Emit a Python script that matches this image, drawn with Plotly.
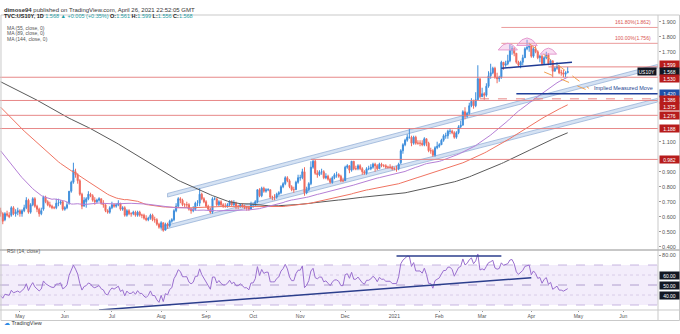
import numpy as np
import pandas as pd
import plotly.graph_objects as go

# ---------------- data: TVC:US10Y daily ----------------
# closes before the visible window (Sep 30 2019 .. Apr 17 2020), used for MA / RSI warm-up
history_close = [
    1.67, 1.65, 1.60, 1.54, 1.53,
    1.56, 1.53, 1.59, 1.67, 1.73,
    1.73, 1.77, 1.75, 1.75, 1.75,
    1.80, 1.77, 1.77, 1.77, 1.80,
    1.84, 1.84, 1.78, 1.69, 1.71,
    1.78, 1.86, 1.82, 1.92, 1.94,
    1.94, 1.92, 1.88, 1.82, 1.83,
    1.81, 1.79, 1.74, 1.77, 1.77,
    1.76, 1.74, 1.77, 1.77, 1.78,
    1.83, 1.72, 1.77, 1.80, 1.84,
    1.82, 1.84, 1.79, 1.90, 1.82,
    1.88, 1.89, 1.92, 1.92, 1.92,
    1.93, 1.90, 1.90, 1.90, 1.88,
    1.90, 1.92, 1.92, 1.88, 1.79,
    1.81, 1.83, 1.87, 1.85, 1.82,
    1.85, 1.81, 1.79, 1.81, 1.84,
    1.84, 1.77, 1.77, 1.74, 1.68,
    1.61, 1.65, 1.59, 1.58, 1.51,
    1.53, 1.60, 1.65, 1.65, 1.58,
    1.56, 1.59, 1.63, 1.61, 1.58,
    1.58, 1.56, 1.56, 1.52, 1.47,
    1.37, 1.33, 1.31, 1.30, 1.13,
    1.16, 1.00, 1.00, 0.92, 0.74,
    0.54, 0.77, 0.82, 0.86, 0.96,
    0.73, 1.08, 1.19, 1.12, 0.92,
    0.76, 0.84, 0.86, 0.83, 0.68,
    0.70, 0.67, 0.59, 0.60, 0.59,
    0.67, 0.72, 0.77, 0.73, 0.73,
    0.76, 0.75, 0.63, 0.62, 0.65,
]

# visible candles, Apr 20 2020 .. Apr 26 2021 (one week per row)
opens = [
    0.64, 0.62, 0.58, 0.62, 0.61,
    0.61, 0.66, 0.62, 0.63, 0.64,
    0.62, 0.64, 0.66, 0.71, 0.63,
    0.68, 0.72, 0.67, 0.65, 0.62,
    0.65, 0.73, 0.70, 0.68, 0.67,
    0.66, 0.66, 0.69, 0.69, 0.70,
    0.65, 0.66, 0.69, 0.77, 0.83,
    0.90, 0.88, 0.84, 0.75, 0.67,
    0.70, 0.72, 0.75, 0.74, 0.71,
    0.70, 0.71, 0.72, 0.69, 0.68,
    0.64, 0.63, 0.66, 0.68, 0.67,
    0.68, 0.69, 0.65, 0.66, 0.61,
    0.64, 0.62, 0.62, 0.63, 0.61,
    0.63, 0.61, 0.61, 0.59, 0.58,
    0.59, 0.61, 0.58, 0.58, 0.55,
    0.53, 0.56, 0.51, 0.55, 0.54,
    0.57, 0.58, 0.64, 0.67, 0.72,
    0.71, 0.68, 0.68, 0.68, 0.65,
    0.64, 0.65, 0.69, 0.69, 0.75,
    0.72, 0.70, 0.67, 0.65, 0.63,
    0.72, 0.72, 0.68, 0.70, 0.68,
    0.67, 0.67, 0.68, 0.70, 0.68,
    0.69, 0.67, 0.67, 0.68, 0.67,
    0.66, 0.66, 0.65, 0.68, 0.68,
    0.70, 0.78, 0.74, 0.79, 0.77,
    0.78, 0.78, 0.73, 0.73, 0.73,
    0.75, 0.76, 0.80, 0.82, 0.86,
    0.84, 0.80, 0.78, 0.78, 0.83,
    0.86, 0.86, 0.90, 0.76, 0.78,
    0.82, 0.93, 0.97, 0.89, 0.88,
    0.90, 0.90, 0.86, 0.87, 0.85,
    0.83, 0.86, 0.88, 0.88, 0.87,
    0.84, 0.84, 0.93, 0.94, 0.91,
    0.97, 0.92, 0.92, 0.94, 0.92,
    0.90, 0.89, 0.92, 0.92, 0.93,
    0.95, 0.94, 0.92, 0.95, 0.94,
    0.94, 0.93, 0.93, 0.93, 0.92,
    0.92, 0.92, 0.96, 1.04, 1.08,
    1.11, 1.13, 1.13, 1.09, 1.13,
    1.09, 1.09, 1.09, 1.08, 1.12,
    1.09, 1.04, 1.04, 1.01, 1.06,
    1.07, 1.08, 1.11, 1.14, 1.14,
    1.17, 1.17, 1.16, 1.13, 1.16,
    1.20, 1.21, 1.30, 1.27, 1.29,
    1.34, 1.37, 1.34, 1.38, 1.52,
    1.40, 1.42, 1.41, 1.47, 1.54,
    1.56, 1.59, 1.53, 1.52, 1.53,
    1.63, 1.61, 1.62, 1.64, 1.71,
    1.72, 1.69, 1.63, 1.61, 1.63,
    1.66, 1.72, 1.73, 1.74, 1.67,
    1.72, 1.70, 1.66, 1.67, 1.62,
    1.66, 1.68, 1.62, 1.64, 1.57,
    1.59, 1.60, 1.56, 1.56, 1.55,
    1.561,
]
highs = [
    0.66, 0.63, 0.63, 0.64, 0.63,
    0.67, 0.67, 0.65, 0.66, 0.65,
    0.65, 0.68, 0.73, 0.72, 0.69,
    0.73, 0.73, 0.68, 0.66, 0.66,
    0.74, 0.74, 0.71, 0.70, 0.68,
    0.67, 0.72, 0.72, 0.71, 0.71,
    0.67, 0.70, 0.77, 0.84, 0.96,
    0.92, 0.89, 0.85, 0.76, 0.73,
    0.73, 0.77, 0.76, 0.75, 0.73,
    0.72, 0.73, 0.72, 0.71, 0.68,
    0.65, 0.67, 0.70, 0.69, 0.69,
    0.71, 0.69, 0.67, 0.67, 0.65,
    0.65, 0.63, 0.64, 0.64, 0.64,
    0.64, 0.62, 0.62, 0.61, 0.60,
    0.62, 0.62, 0.60, 0.59, 0.56,
    0.57, 0.56, 0.56, 0.56, 0.58,
    0.59, 0.65, 0.69, 0.73, 0.73,
    0.72, 0.69, 0.70, 0.69, 0.66,
    0.67, 0.70, 0.71, 0.79, 0.76,
    0.73, 0.71, 0.68, 0.66, 0.73,
    0.73, 0.72, 0.71, 0.71, 0.69,
    0.69, 0.69, 0.71, 0.71, 0.71,
    0.70, 0.68, 0.69, 0.69, 0.68,
    0.67, 0.67, 0.70, 0.69, 0.71,
    0.78, 0.79, 0.80, 0.80, 0.79,
    0.79, 0.78, 0.74, 0.75, 0.76,
    0.77, 0.81, 0.83, 0.87, 0.87,
    0.85, 0.81, 0.80, 0.84, 0.88,
    0.88, 0.92, 0.93, 0.80, 0.83,
    0.97, 0.98, 0.98, 0.91, 0.91,
    0.92, 0.91, 0.89, 0.88, 0.86,
    0.87, 0.89, 0.90, 0.89, 0.88,
    0.86, 0.94, 0.95, 0.94, 0.97,
    0.97, 0.94, 0.95, 0.95, 0.93,
    0.91, 0.93, 0.94, 0.95, 0.96,
    0.96, 0.95, 0.96, 0.96, 0.95,
    0.95, 0.94, 0.95, 0.94, 0.93,
    0.94, 0.96, 1.05, 1.09, 1.12,
    1.15, 1.19, 1.14, 1.14, 1.14,
    1.11, 1.11, 1.11, 1.13, 1.12,
    1.10, 1.06, 1.05, 1.07, 1.10,
    1.09, 1.12, 1.15, 1.16, 1.18,
    1.19, 1.18, 1.17, 1.17, 1.21,
    1.24, 1.31, 1.33, 1.30, 1.36,
    1.39, 1.38, 1.43, 1.61, 1.52,
    1.46, 1.43, 1.49, 1.57, 1.62,
    1.60, 1.60, 1.56, 1.54, 1.64,
    1.63, 1.64, 1.68, 1.75, 1.74,
    1.73, 1.69, 1.64, 1.64, 1.68,
    1.73, 1.78, 1.76, 1.74, 1.73,
    1.74, 1.71, 1.68, 1.68, 1.67,
    1.70, 1.69, 1.65, 1.64, 1.60,
    1.63, 1.61, 1.58, 1.58, 1.57,
    1.599,
]
lows = [
    0.60, 0.55, 0.57, 0.60, 0.59,
    0.60, 0.61, 0.60, 0.61, 0.60,
    0.60, 0.63, 0.65, 0.62, 0.62,
    0.67, 0.66, 0.63, 0.60, 0.61,
    0.64, 0.69, 0.67, 0.66, 0.65,
    0.65, 0.65, 0.67, 0.68, 0.64,
    0.64, 0.65, 0.68, 0.76, 0.82,
    0.86, 0.82, 0.74, 0.65, 0.67,
    0.66, 0.71, 0.73, 0.70, 0.68,
    0.69, 0.70, 0.68, 0.66, 0.63,
    0.62, 0.62, 0.65, 0.66, 0.66,
    0.67, 0.64, 0.64, 0.60, 0.60,
    0.61, 0.60, 0.61, 0.60, 0.60,
    0.60, 0.59, 0.58, 0.57, 0.57,
    0.58, 0.57, 0.56, 0.54, 0.52,
    0.52, 0.50, 0.51, 0.52, 0.53,
    0.56, 0.57, 0.63, 0.66, 0.69,
    0.67, 0.66, 0.66, 0.64, 0.62,
    0.63, 0.64, 0.67, 0.67, 0.71,
    0.69, 0.66, 0.64, 0.62, 0.62,
    0.71, 0.67, 0.67, 0.67, 0.66,
    0.66, 0.66, 0.67, 0.67, 0.67,
    0.65, 0.65, 0.66, 0.66, 0.65,
    0.64, 0.64, 0.65, 0.66, 0.67,
    0.69, 0.73, 0.73, 0.76, 0.76,
    0.77, 0.72, 0.71, 0.71, 0.72,
    0.74, 0.75, 0.79, 0.81, 0.83,
    0.79, 0.77, 0.76, 0.78, 0.82,
    0.84, 0.85, 0.74, 0.75, 0.77,
    0.81, 0.92, 0.88, 0.86, 0.87,
    0.88, 0.85, 0.85, 0.84, 0.82,
    0.82, 0.85, 0.86, 0.86, 0.83,
    0.83, 0.84, 0.92, 0.89, 0.90,
    0.91, 0.91, 0.91, 0.91, 0.88,
    0.88, 0.88, 0.91, 0.91, 0.92,
    0.90, 0.91, 0.92, 0.93, 0.93,
    0.92, 0.92, 0.92, 0.91, 0.91,
    0.90, 0.91, 0.95, 1.02, 1.07,
    1.10, 1.12, 1.07, 1.08, 1.08,
    1.08, 1.07, 1.07, 1.07, 1.07,
    1.03, 1.02, 1.00, 1.00, 1.05,
    1.06, 1.08, 1.10, 1.12, 1.12,
    1.15, 1.15, 1.12, 1.12, 1.15,
    1.19, 1.21, 1.25, 1.26, 1.28,
    1.33, 1.32, 1.33, 1.38, 1.39,
    1.40, 1.38, 1.40, 1.46, 1.52,
    1.55, 1.52, 1.49, 1.50, 1.52,
    1.58, 1.60, 1.61, 1.63, 1.68,
    1.67, 1.62, 1.60, 1.59, 1.61,
    1.66, 1.71, 1.70, 1.66, 1.66,
    1.69, 1.65, 1.63, 1.61, 1.62,
    1.65, 1.61, 1.61, 1.53, 1.57,
    1.58, 1.55, 1.54, 1.53, 1.53,
    1.556,
]
closes = [
    0.62, 0.57, 0.62, 0.61, 0.60,
    0.66, 0.62, 0.63, 0.64, 0.62,
    0.64, 0.66, 0.71, 0.63, 0.68,
    0.72, 0.67, 0.65, 0.62, 0.64,
    0.73, 0.70, 0.68, 0.67, 0.66,
    0.66, 0.69, 0.69, 0.70, 0.65,
    0.66, 0.68, 0.77, 0.83, 0.91,
    0.88, 0.84, 0.75, 0.67, 0.71,
    0.72, 0.75, 0.74, 0.71, 0.70,
    0.71, 0.72, 0.69, 0.68, 0.64,
    0.63, 0.66, 0.68, 0.67, 0.68,
    0.69, 0.65, 0.66, 0.61, 0.64,
    0.62, 0.62, 0.63, 0.61, 0.63,
    0.61, 0.61, 0.59, 0.58, 0.59,
    0.61, 0.58, 0.58, 0.55, 0.53,
    0.56, 0.51, 0.55, 0.54, 0.57,
    0.58, 0.64, 0.67, 0.72, 0.71,
    0.68, 0.68, 0.68, 0.65, 0.64,
    0.65, 0.69, 0.69, 0.75, 0.72,
    0.70, 0.67, 0.65, 0.63, 0.72,
    0.72, 0.68, 0.70, 0.68, 0.67,
    0.67, 0.68, 0.70, 0.68, 0.69,
    0.67, 0.67, 0.68, 0.67, 0.66,
    0.66, 0.65, 0.68, 0.68, 0.70,
    0.78, 0.74, 0.79, 0.77, 0.78,
    0.78, 0.73, 0.73, 0.73, 0.75,
    0.76, 0.80, 0.82, 0.86, 0.84,
    0.80, 0.78, 0.78, 0.83, 0.86,
    0.86, 0.90, 0.76, 0.78, 0.82,
    0.93, 0.97, 0.89, 0.88, 0.90,
    0.90, 0.86, 0.87, 0.85, 0.83,
    0.86, 0.88, 0.88, 0.87, 0.84,
    0.84, 0.93, 0.94, 0.91, 0.97,
    0.92, 0.92, 0.94, 0.92, 0.90,
    0.89, 0.92, 0.92, 0.93, 0.95,
    0.94, 0.92, 0.95, 0.94, 0.94,
    0.93, 0.93, 0.93, 0.92, 0.92,
    0.92, 0.95, 1.04, 1.08, 1.11,
    1.13, 1.13, 1.09, 1.13, 1.09,
    1.09, 1.09, 1.08, 1.12, 1.09,
    1.04, 1.04, 1.01, 1.06, 1.07,
    1.08, 1.11, 1.14, 1.14, 1.17,
    1.17, 1.16, 1.13, 1.16, 1.20,
    1.21, 1.30, 1.27, 1.29, 1.34,
    1.37, 1.34, 1.38, 1.52, 1.40,
    1.42, 1.41, 1.47, 1.54, 1.56,
    1.59, 1.53, 1.52, 1.53, 1.63,
    1.61, 1.62, 1.64, 1.71, 1.72,
    1.69, 1.63, 1.61, 1.63, 1.66,
    1.72, 1.73, 1.74, 1.67, 1.72,
    1.70, 1.66, 1.67, 1.62, 1.66,
    1.68, 1.62, 1.64, 1.57, 1.59,
    1.60, 1.56, 1.56, 1.55, 1.56,
    1.568,
]

# axis ticks
month_starts = ["2020-05", "2020-06", "2020-07", "2020-08", "2020-09", "2020-10", "2020-11",
                "2020-12", "2021-01", "2021-02", "2021-03", "2021-04", "2021-05", "2021-06"]
month_labels = ["May", "Jun", "Jul", "Aug", "Sep", "Oct", "Nov",
                "Dec", "2021", "Feb", "Mar", "Apr", "May", "Jun"]
price_ticks = [0.4, 0.5, 0.6, 0.7, 0.8, 0.9, 1.1, 1.7, 1.8, 1.9]

# horizontal levels: (price, start date or None for full width, dashed)
levels = [(1.530, None, False), (1.375, None, False), (1.276, None, False), (1.188, None, False),
          (0.982, "2020-11-09", False), (1.599, "2021-04-13", False), (1.386, "2021-02-26", True)]
fib_levels = [(1.862, "161.80%(1.862)"), (1.756, "100.00%(1.756)")]
fib_start = "2021-03-12"
measured_move = (1.420, "2021-03-23")
# axis price tags: (price, colour, vertical nudge in px)
price_tags = [(1.599, "#b71c1c", 2), (1.568, "#131722", 0), (1.530, "#b71c1c", -1),
              (1.420, "#1e4fa8", 0), (1.386, "#b71c1c", -1), (1.375, "#b71c1c", -6),
              (1.276, "#b71c1c", 0), (1.188, "#b71c1c", 0), (0.982, "#b71c1c", 0)]

# drawings
channel_upper = [("2020-08-06", 0.731), ("2021-06-23", 1.591)]
channel_lower = [("2020-08-03", 0.510), ("2021-06-23", 1.365)]
neckline = [("2021-03-12", 1.590), ("2021-04-28", 1.630)]
hs_arcs = [("2021-03-17", 4.5, 1.712, 0.045), ("2021-03-30", 4.8, 1.742, 0.05), ("2021-04-13", 3.8, 1.684, 0.04)]
dashed_lines = [[("2021-03-31", 1.755), ("2021-05-10", 1.455)],
                [("2021-04-09", 1.565), ("2021-05-07", 1.445)]]
rsi_support = [("2020-06-23", 25.0), ("2021-04-01", 57.3)]
rsi_top = [("2021-01-04", 79.0), ("2021-03-12", 79.0)]

# ---------------- derived series ----------------
cal = pd.bdate_range("2020-04-20", "2021-07-30")


def bar(d):
    return int(cal.searchsorted(pd.Timestamp(d)))


n = len(closes)
xs = np.arange(n)
allc = pd.Series(history_close + closes, dtype=float)
ma55 = allc.rolling(55).mean().iloc[-n:].values
ma89 = allc.rolling(89).mean().iloc[-n:].values
ma144 = allc.rolling(144).mean().iloc[-n:].values
delta = allc.diff()
gain = delta.clip(lower=0).ewm(alpha=1 / 14, adjust=False).mean()
loss = (-delta.clip(upper=0)).ewm(alpha=1 / 14, adjust=False).mean()
rsi = (100 - 100 / (1 + gain / loss)).iloc[-n:].values

tick_idx = [bar(m + "-01") for m in month_starts]

X0, X1 = -0.3, 307.2
Y0, Y1 = 0.378, 1.945
SPLIT = 60 / 295  # RSI pane share of plot height


def py(pix):  # pixel row -> paper y
    return (310 - pix) / 295


def px(pix):  # pixel column -> paper x
    return pix / 658


FONT = "Liberation Sans, Arial, sans-serif"
UP, DOWN = "#3f8fdc", "#ef6a5e"

fig = go.Figure()

fig.add_trace(go.Candlestick(
    x=xs, open=opens, high=highs, low=lows, close=closes,
    increasing=dict(line=dict(color=UP, width=1), fillcolor=UP),
    decreasing=dict(line=dict(color=DOWN, width=1), fillcolor=DOWN),
    whiskerwidth=0, xaxis="x", yaxis="y", hoverinfo="skip"))
for vals, col in [(ma144, "#5a5a5a"), (ma89, "#f07462"), (ma55, "#b57fd6")]:
    fig.add_trace(go.Scatter(x=xs, y=vals, mode="lines", line=dict(color=col, width=1),
                             xaxis="x", yaxis="y", hoverinfo="skip"))

fig.add_trace(go.Scatter(x=xs, y=rsi, mode="lines", line=dict(color="#9a6fcf", width=1),
                         xaxis="x", yaxis="y2", hoverinfo="skip"))

shapes = []
ann = []

# RSI band
shapes.append(dict(type="rect", xref="x", yref="y2", x0=X0, x1=X1, y0=30, y1=70,
                   fillcolor="rgba(156,110,220,0.12)", line=dict(width=0), layer="below"))
for lv, dash, col in [(70, "dash", "#b9a3d9"), (30, "dash", "#b9a3d9"), (50, "dash", "#a08cc4"),
                      (60, "dot", "#d0c4e4"), (40, "dot", "#d0c4e4")]:
    shapes.append(dict(type="line", xref="x", yref="y2", x0=X0, x1=X1, y0=lv, y1=lv,
                       line=dict(color=col, width=0.8, dash=dash), layer="below"))


def seg(p, q, yref="y", color="#1f3a93", width=1.5, dash="solid", layer="above"):
    return dict(type="line", xref="x", yref=yref, x0=bar(p[0]), y0=p[1], x1=bar(q[0]), y1=q[1],
                line=dict(color=color, width=width, dash=dash), layer=layer)


shapes.append(seg(*rsi_support, yref="y2", color="#2b3e8c", width=1.5))
shapes.append(seg(*rsi_top, yref="y2", color="#2b3e8c", width=1.5))

# rising channel, each edge as a thin shaded band
BW = 0.024
for (d0, p0), (d1, p1) in [channel_upper, channel_lower]:
    a, b = bar(d0), bar(d1)
    shapes.append(dict(type="path", xref="x", yref="y",
                       path=f"M {a},{p0} L {b},{p1} L {b},{p1 + BW} L {a},{p0 + BW} Z",
                       fillcolor="rgba(178,202,234,0.55)", line=dict(color="#98b3d8", width=0.8),
                       layer="below"))

# horizontal levels
for price, start, dashed in levels:
    if start is None:
        shapes.append(dict(type="line", xref="paper", yref="y", x0=0, x1=1, y0=price, y1=price,
                           line=dict(color="#e47b7b", width=0.9)))
    else:
        shapes.append(dict(type="line", xref="x", yref="y", x0=bar(start), x1=X1, y0=price, y1=price,
                           line=dict(color="#e47b7b", width=0.9, dash="dash" if dashed else "solid")))

for price, label in fib_levels:
    shapes.append(dict(type="line", xref="x", yref="y", x0=bar(fib_start), x1=X1, y0=price, y1=price,
                       line=dict(color="#e99090", width=0.9)))
    ann.append(dict(x=0.992, xref="paper", y=price, yref="y", text=label, showarrow=False,
                    xanchor="right", yanchor="bottom", yshift=0,
                    font=dict(family=FONT, size=5, color="#d9534f")))

mm_price, mm_start = measured_move
shapes.append(dict(type="line", xref="x", yref="y", x0=bar(mm_start), x1=X1, y0=mm_price, y1=mm_price,
                   line=dict(color="#1f3f9a", width=1.3)))
ann.append(dict(x=0.995, xref="paper", y=mm_price, yref="y", text="Implied Measured Move",
                showarrow=False, xanchor="right", yanchor="bottom", yshift=1,
                font=dict(family=FONT, size=5.5, color="#1e3f8f")))

# head & shoulders
shapes.append(seg(*neckline, color="#1f3a93", width=1.5))
for d, hw, base, h in hs_arcs:
    c = bar(d)
    shapes.append(dict(type="path", xref="x", yref="y",
                       path=f"M {c - hw},{base} Q {c},{base + 2 * h} {c + hw},{base} Z",
                       fillcolor="rgba(236,160,214,0.35)", line=dict(color="#e59bd0", width=1)))
for p, q in dashed_lines:
    shapes.append(seg(p, q, color="#f0a050", width=1, dash="dash"))

# frame
GRAY = "#c9c9c9"
shapes += [
    dict(type="rect", xref="paper", yref="paper", x0=0.0015, x1=px(679.5), y0=py(320.5), y1=1,
         line=dict(color=GRAY, width=1)),
    dict(type="line", xref="paper", yref="paper", x0=1, x1=1, y0=py(320.5), y1=1, line=dict(color=GRAY, width=1)),
    dict(type="line", xref="paper", yref="paper", x0=0, x1=px(680), y0=SPLIT, y1=SPLIT,
         line=dict(color="#b5b5b5", width=1.5)),
    dict(type="line", xref="paper", yref="paper", x0=0, x1=px(680), y0=0, y1=0, line=dict(color=GRAY, width=1)),
]

# price tags on the axis
for price, col, nudge in price_tags:
    ann.append(dict(x=1, xref="paper", y=price, yref="y", text=f"{price:.3f}", showarrow=False,
                    xanchor="left", xshift=1, yshift=nudge, bgcolor=col, borderpad=0.5, width=18,
                    font=dict(family=FONT, size=5, color="white")))
ann.append(dict(x=1, xref="paper", y=1.568, yref="y", text="US10Y", showarrow=False,
                xanchor="right", xshift=-1, bgcolor="#131722", borderpad=0.5,
                font=dict(family=FONT, size=5, color="white")))
for v in [60, 50, 40]:
    ann.append(dict(x=1, xref="paper", y=v, yref="y2", text=f"{v:.2f}", showarrow=False,
                    xanchor="left", xshift=1, bgcolor="#131722", borderpad=0.5, width=18,
                    font=dict(family=FONT, size=5, color="white")))

# header and legends
TEAL = "#1f9fa6"
ann += [
    dict(x=px(2), xref="paper", y=py(5), yref="paper", showarrow=False, xanchor="left",
         text="<b>dimose94</b> published on TradingView.com, April 26, 2021 22:52:05 GMT",
         font=dict(family=FONT, size=6, color="#333")),
    dict(x=px(2), xref="paper", y=py(11), yref="paper", showarrow=False, xanchor="left",
         text=(f"<b>TVC:US10Y, 1D</b> <span style='color:{TEAL}'>1.568 ▲ +0.005 (+0.35%)</span> "
               f"<b>O:</b><span style='color:{TEAL}'>1.561</span> <b>H:</b><span style='color:{TEAL}'>1.599</span> "
               f"<b>L:</b><span style='color:{TEAL}'>1.556</span> <b>C:</b><span style='color:{TEAL}'>1.568</span>"),
         font=dict(family=FONT, size=5.5, color="#222")),
    dict(x=px(5), xref="paper", y=py(23), yref="paper", showarrow=False, xanchor="left",
         text="MA (55, close, 0)", font=dict(family=FONT, size=5, color="#555")),
    dict(x=px(5), xref="paper", y=py(28.5), yref="paper", showarrow=False, xanchor="left",
         text="MA (89, close, 0)", font=dict(family=FONT, size=5, color="#555")),
    dict(x=px(5), xref="paper", y=py(34), yref="paper", showarrow=False, xanchor="left",
         text="MA (144, close, 0)", font=dict(family=FONT, size=5, color="#555")),
    dict(x=px(5), xref="paper", y=py(256), yref="paper", showarrow=False, xanchor="left",
         text="RSI (14, close)", font=dict(family=FONT, size=5, color="#555")),
    dict(x=px(2), xref="paper", y=py(327.5), yref="paper", showarrow=False, xanchor="left",
         text="<span style='color:#2f8be6'>☁</span> TradingView", font=dict(family=FONT, size=5.5, color="#333")),
]

fig.update_layout(
    width=680, height=334, template="none",
    margin=dict(l=0, r=22, t=15, b=24),
    paper_bgcolor="white", plot_bgcolor="white", showlegend=False,
    font=dict(family=FONT, size=6, color="#555"),
    xaxis=dict(range=[X0, X1], anchor="y2", tickvals=tick_idx, ticktext=month_labels,
               ticks="outside", ticklen=1, tickcolor="#999", showgrid=False, zeroline=False,
               showline=False, tickfont=dict(size=5, color="#555"), automargin=False,
               rangeslider=dict(visible=False)),
    yaxis=dict(domain=[SPLIT, 1], range=[Y0, Y1], side="right", anchor="x",
               tickvals=price_ticks, ticktext=[f"{t:.3f}" for t in price_ticks],
               ticks="outside", ticklen=2, tickcolor="#999", showgrid=False, zeroline=False,
               tickfont=dict(size=5.5, color="#555"), automargin=False),
    yaxis2=dict(domain=[0, SPLIT], range=[25, 85], side="right", anchor="x",
                tickvals=[80], ticktext=["80.00"], ticks="outside", ticklen=2, tickcolor="#999",
                showgrid=False, zeroline=False, tickfont=dict(size=5.5, color="#555"), automargin=False),
    shapes=shapes, annotations=ann,
)

fig.write_html("out.html")
